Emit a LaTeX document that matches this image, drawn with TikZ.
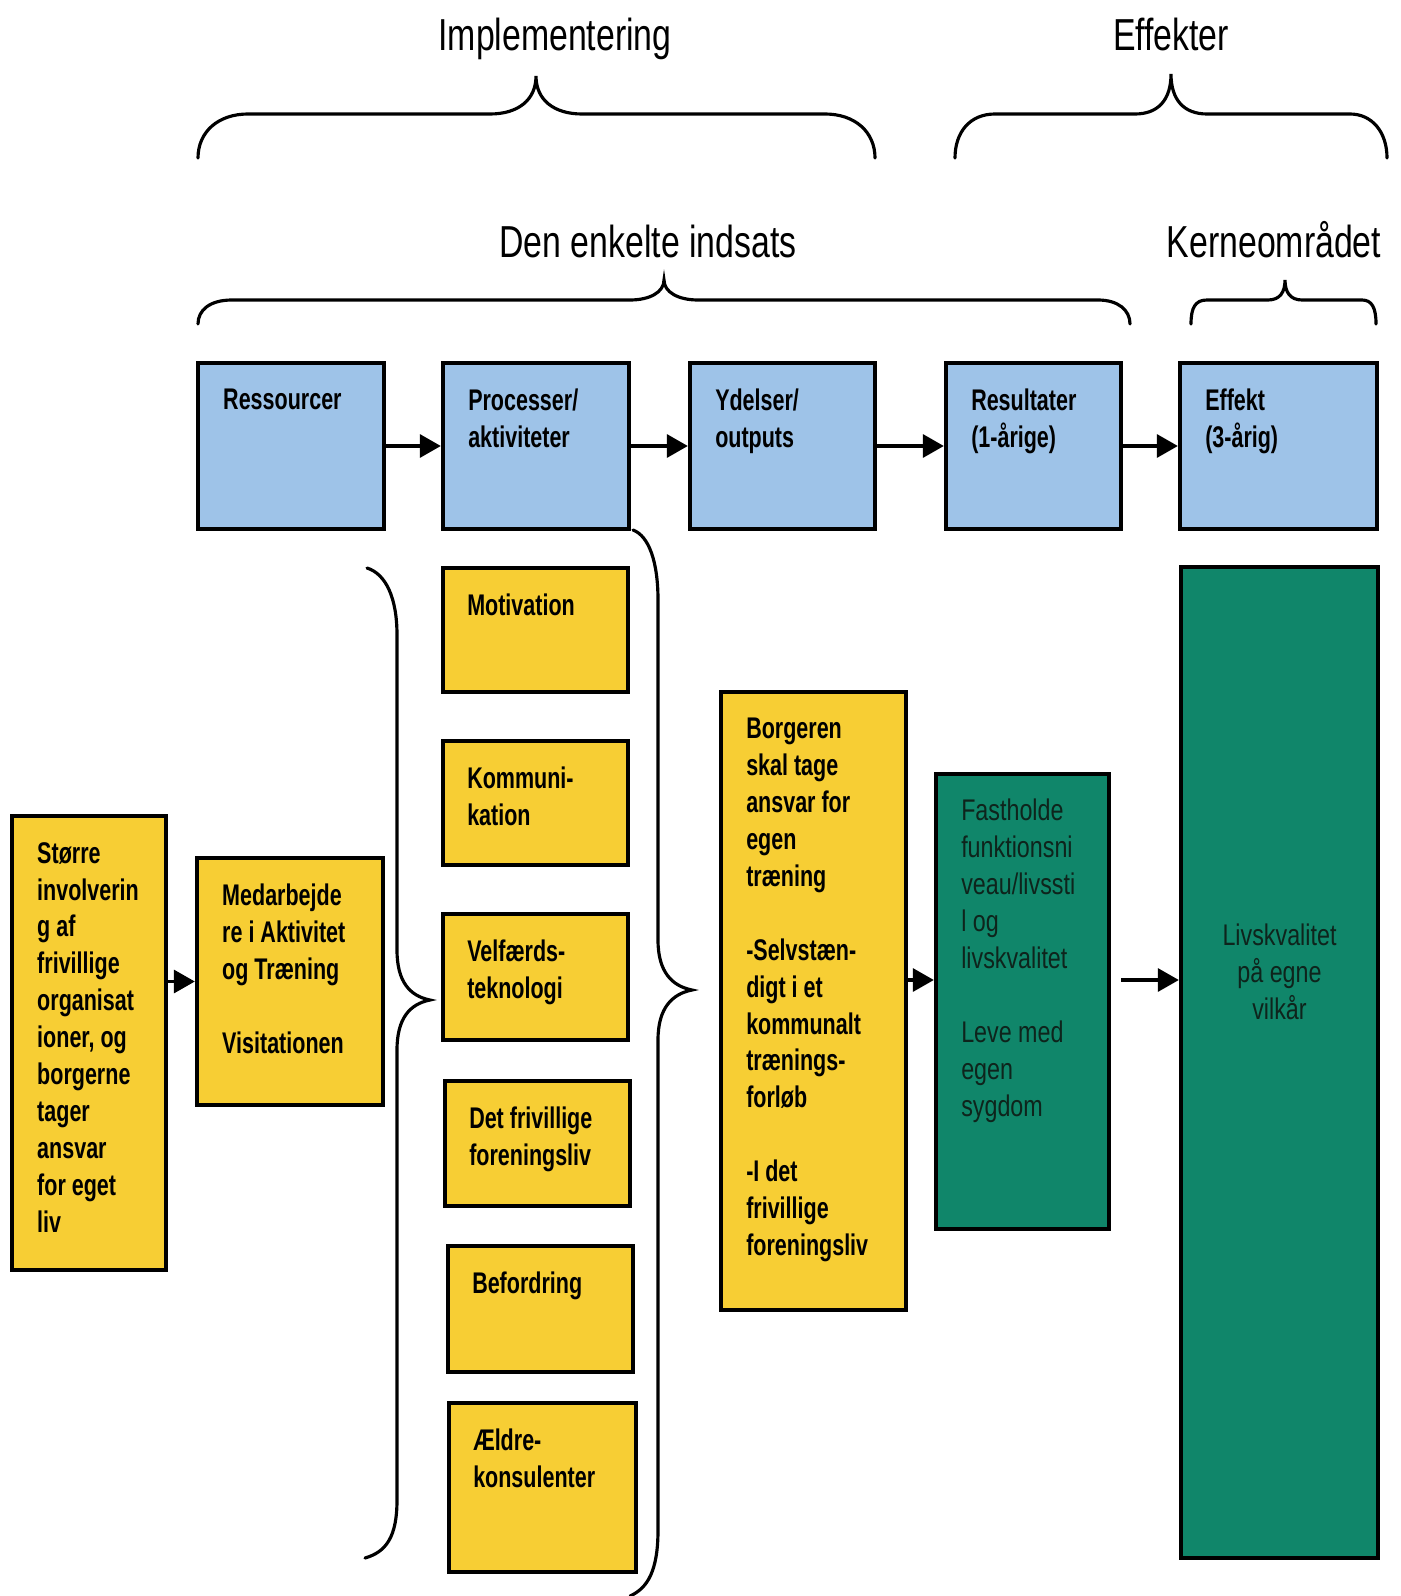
\documentclass[tikz,border=0pt]{standalone}
\usepackage{fontspec}
\setmainfont{Liberation Sans}
\newfontfamily\hdrfont[FakeStretch=0.755]{Liberation Sans}
\newfontfamily\boxfont[FakeStretch=0.72]{Liberation Sans}
\newfontfamily\grnfont[FakeStretch=0.78]{Liberation Sans}
\usetikzlibrary{positioning, fit, arrows.meta}

\definecolor{boxblue}{RGB}{158,195,232}
\definecolor{boxyellow}{RGB}{247,206,52}
\definecolor{boxgreen}{RGB}{16,134,106}
\definecolor{grntext}{RGB}{14,36,28}

\begin{document}
\begin{tikzpicture}[
                    x=0.2mm, y=-0.2mm,
                    box/.style={draw=black, line width=2.4pt, inner sep=0pt},
                    bluebox/.style={box, fill=boxblue},
                    yelbox/.style={box, fill=boxyellow},
                    grnbox/.style={box, fill=boxgreen},
                    boxtxt/.style={anchor=north west, inner sep=0pt, align=left,
                                   font=\boxfont\bfseries\fontsize{17}{21}\selectfont},
                    grntxt/.style={anchor=north west, inner sep=0pt, align=left, text=grntext,
                                   font=\grnfont\fontsize{17}{21}\selectfont},
                    header/.style={anchor=base, inner sep=0pt,
                                   font=\hdrfont\fontsize{25.5}{30}\selectfont},
                    curly/.style={line width=1.8pt, line cap=round},
                    flow/.style={line width=2.2pt, -{Triangle[length=12pt,width=13pt]}}
                ]
                  \path[use as bounding box, fill=white] (0,0) rectangle (1400,1596);

                  % headings and braces
                  \node[header] (himpl) at (555,51) {Implementering};
                  \node[header] (heff) at (1171,51) {Effekter};
                  \node[header] (hind) at (648,258) {Den enkelte indsats};
                  \node[header] (hkerne) at (1274,258) {Kerneområdet};

                  \draw[curly] (198,158) .. controls (198,132) and (218,114) .. (248,114) -- (490,114)
                    .. controls (518,114) and (536,100) .. (536,76) .. controls (536,100) and (554,114) .. (582,114)
                    -- (825,114) .. controls (855,114) and (875,132) .. (875,158);
                  \draw[curly] (955,158) .. controls (955,132) and (970,114) .. (995,114) -- (1135,114)
                    .. controls (1158,114) and (1171,100) .. (1171,74) .. controls (1171,100) and (1184,114) .. (1207,114)
                    -- (1350,114) .. controls (1372,114) and (1387,132) .. (1387,158);
                  \draw[curly] (198,324) .. controls (198,310) and (210,300) .. (232,300) -- (630,300)
                    .. controls (650,300) and (664,292) .. (664,280) .. controls (664,292) and (678,300) .. (698,300)
                    -- (1098,300) .. controls (1118,300) and (1130,310) .. (1130,324);
                  \draw[curly] (1191,324) .. controls (1191,308) and (1195,300) .. (1207,300) -- (1268,300)
                    .. controls (1280,300) and (1285,292) .. (1285,280) .. controls (1285,292) and (1290,300) .. (1302,300)
                    -- (1362,300) .. controls (1372,300) and (1376,308) .. (1376,324);

                  % top row
                  \node[bluebox, fit={(198,363) (384,529)}] (res) {};
                  \node[bluebox, fit={(443,363) (629,529)}] (proc) {};
                  \node[bluebox, fit={(690,363) (875,529)}] (yd) {};
                  \node[bluebox, fit={(946,363) (1121,529)}] (resu) {};
                  \node[bluebox, fit={(1180,363) (1377,529)}] (eff) {};
                  \node[boxtxt] (tres) at ([shift={(27,28)}]res.north west) {Ressourcer};
                  \node[boxtxt] (tproc) at ([shift={(27,28)}]proc.north west) {Processer/\\aktiviteter};
                  \node[boxtxt] (tyd) at ([shift={(27,28)}]yd.north west) {Ydelser/\\outputs};
                  \node[boxtxt] (tresu) at ([shift={(27,28)}]resu.north west) {Resultater\\(1-årige)};
                  \node[boxtxt] (teff) at ([shift={(27,28)}]eff.north west) {Effekt\\(3-årig)};
                  \draw[flow] (res) -- (proc);
                  \draw[flow] (proc) -- (yd);
                  \draw[flow] (yd) -- (resu);
                  \draw[flow] (resu) -- (eff);

                  % activities
                  \node[yelbox, fit={(443,568) (628,692)}] (mot) {};
                  \node[yelbox, fit={(443,741) (628,865)}] (komm) {};
                  \node[yelbox, fit={(443,914) (628,1040)}] (velf) {};
                  \node[yelbox, fit={(445,1081) (630,1206)}] (frivf) {};
                  \node[yelbox, fit={(448,1246) (633,1372)}] (befo) {};
                  \node[yelbox, fit={(449,1403) (636,1572)}] (aeld) {};
                  \node[boxtxt] (tmot) at ([shift={(26,28)}]mot.north west) {Motivation};
                  \node[boxtxt] (tkomm) at ([shift={(26,28)}]komm.north west) {Kommuni-\\kation};
                  \node[boxtxt] (tvelf) at ([shift={(26,28)}]velf.north west) {Velfærds-\\teknologi};
                  \node[boxtxt] (tfrivf) at ([shift={(26,28)}]frivf.north west) {Det frivillige\\foreningsliv};
                  \node[boxtxt] (tbefo) at ([shift={(26,28)}]befo.north west) {Befordring};
                  \node[boxtxt] (taeld) at ([shift={(26,28)}]aeld.north west) {Ældre-\\konsulenter};

                  \draw[curly] (367,568) .. controls (386,574) and (397,598) .. (397,635) -- (397,950)
                    .. controls (397,982) and (410,996) .. (430,1000) .. controls (410,1004) and (397,1018) .. (397,1050)
                    -- (397,1500) .. controls (397,1537) and (386,1552) .. (365,1558);
                  \draw[curly] (633,530) .. controls (649,536) and (658,562) .. (658,600) -- (658,940)
                    .. controls (658,972) and (672,986) .. (692,990) .. controls (672,994) and (658,1008) .. (658,1040)
                    -- (658,1530) .. controls (658,1570) and (648,1588) .. (630,1596);

                  % lower chain
                  \node[yelbox, fit={(12,816) (166,1270)}] (storre) {};
                  \node[yelbox, fit={(197,858) (383,1105)}] (medarb) {};
                  \node[yelbox, fit={(721,692) (906,1310)}] (borg) {};
                  \node[grnbox, fit={(936,774) (1109,1229)}] (fast) {};
                  \node[grnbox, fit={(1181,567) (1378,1558)}] (liv) {};
                  \node[boxtxt] (tstorre) at ([shift={(27,28)}]storre.north west)
                    {Større\\involverin\\g af\\frivillige\\organisat\\ioner, og\\borgerne\\tager\\ansvar\\for eget\\liv};
                  \node[boxtxt] (tmedarb) at ([shift={(27,28)}]medarb.north west)
                    {Medarbejde\\re i Aktivitet\\og Træning\\[21pt]Visitationen};
                  \node[boxtxt] (tborg) at ([shift={(27,28)}]borg.north west)
                    {Borgeren\\skal tage\\ansvar for\\egen\\træning\\[21pt]-Selvstæn-\\digt i et\\kommunalt\\trænings-\\forløb\\[21pt]-I det\\frivillige\\foreningsliv};
                  \node[grntxt] (tfast) at ([shift={(27,27)}]fast.north west)
                    {Fastholde\\funktionsni\\veau/livssti\\l og\\livskvalitet\\[21pt]Leve med\\egen\\sygdom};
                  \node[grntxt, anchor=north, align=center] (tliv) at ([shift={(0,359)}]liv.north)
                    {Livskvalitet\\på egne\\vilkår};

                  \coordinate (outrow) at (0,980);
                  \coordinate (gap) at ([shift={(10,0)}]fast.east);
                  \draw[flow] (storre.east |- medarb.west) -- (medarb.west);
                  \draw[flow] (borg.east |- outrow) -- (fast.west |- outrow);
                  \draw[flow] (gap |- outrow) -- (liv.west |- outrow);
                \end{tikzpicture}
\end{document}
